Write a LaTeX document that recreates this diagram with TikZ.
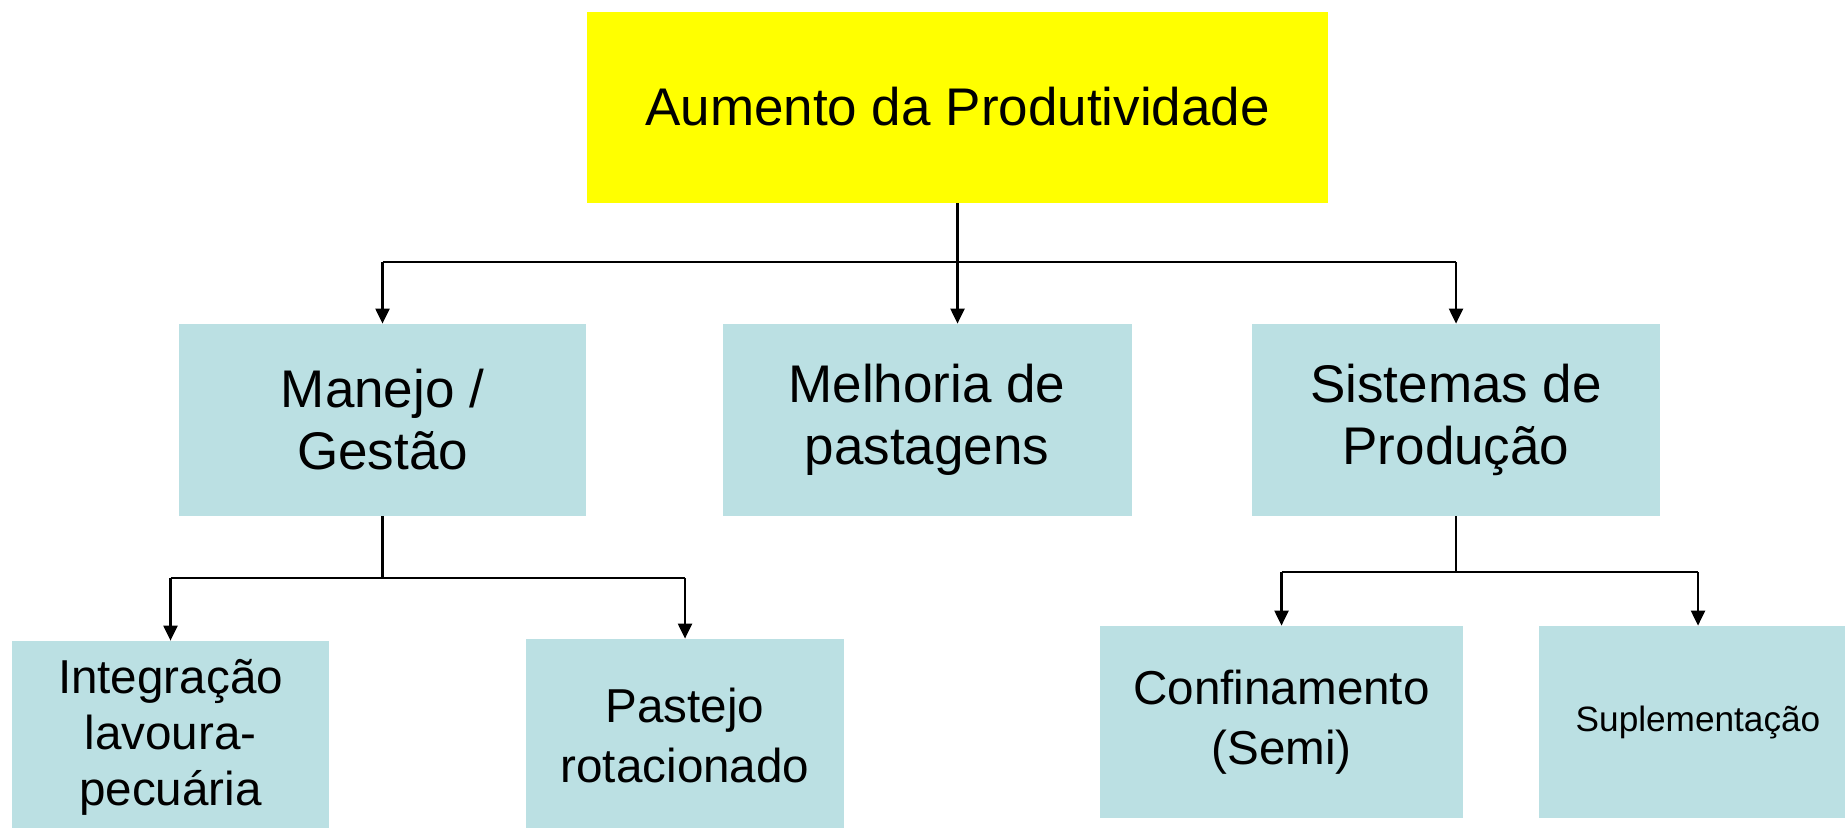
\documentclass[tikz,border=0pt]{standalone}
\usepackage{fontspec}
\setmainfont{Liberation Sans}
\usetikzlibrary{arrows.meta}

\begin{document}
\begin{tikzpicture}[x=0.5pt,y=-0.5pt,
  box/.style={rectangle, inner sep=0pt, align=center, fill=boxColor, minimum height=96pt},
  link/.style={line width=1.1pt, color=black},
  bigText/.style={font=\fontsize{26.5}{31}\selectfont},
  smallText/.style={font=\fontsize{23.8}{30}\selectfont}]
\definecolor{topColor}{RGB}{255,255,0}
\definecolor{boxColor}{RGB}{187,224,227}
\useasboundingbox (0,0) rectangle (1845,827);
% boxes
\node[box, bigText, fill=topColor, minimum width=370.5pt, minimum height=95.5pt] (prod) at (957.5,107) {Aumento da Produtividade};
\node[box, bigText, minimum width=203.5pt] (manejo) at (382.5,420) {Manejo /\\Gestão};
\node[box, bigText, minimum width=204.5pt] (melhoria) at (927,420) {Melhoria de\\pastagens};
\node[box, bigText, minimum width=204pt] (sistemas) at (1456,420) {Sistemas de\\Produção};
\node[box, font=\fontsize{23.8}{28}\selectfont, minimum width=158.5pt] (integ) at (170.5,737) {Integração\\lavoura-\\pecuária};
\node[box, smallText, minimum width=159pt] (pastejo) at (685,735) {Pastejo\\rotacionado};
\node[box, smallText, minimum width=181.5pt] (confin) at (1281.5,722) {Confinamento\\(Semi)};
\node[box, font=\fontsize{17.6}{20}\selectfont, minimum width=159pt] (supl) at (1698,722) {Suplementação};
% connectors
\coordinate (top bus) at (0,262);
\coordinate (left bus) at (0,578);
\coordinate (right bus) at (0,572);
\draw[link] (prod.south) -- (prod.south |- top bus);
\draw[link] (manejo.north |- top bus) -- (sistemas.north |- top bus);
\foreach \n in {manejo,sistemas}
  \draw[link,-{Triangle[length=7.5pt,width=7pt]}] (\n.north |- top bus) -- (\n.north);
\draw[link,-{Triangle[length=7.5pt,width=7pt]}] (prod.south |- top bus) -- (prod.south |- melhoria.north);
\draw[link] (manejo.south) -- (manejo.south |- left bus);
\draw[link] (integ.north |- left bus) -- (pastejo.north |- left bus);
\foreach \n in {integ,pastejo}
  \draw[link,-{Triangle[length=7.5pt,width=7pt]}] (\n.north |- left bus) -- (\n.north);
\draw[link] (sistemas.south) -- (sistemas.south |- right bus);
\draw[link] (confin.north |- right bus) -- (supl.north |- right bus);
\foreach \n in {confin,supl}
  \draw[link,-{Triangle[length=7.5pt,width=7pt]}] (\n.north |- right bus) -- (\n.north);
\end{tikzpicture}
\end{document}
